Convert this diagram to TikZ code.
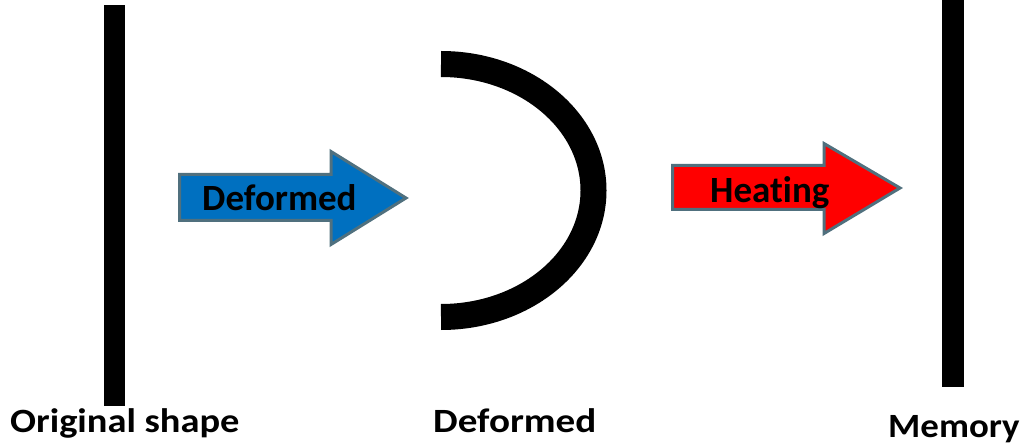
\documentclass[tikz,border=0pt]{standalone}
\usepackage{fontspec}
\setmainfont{Carlito}[Ligatures=NoCommon]
\definecolor{arrowedge}{HTML}{50707E}
\definecolor{arrowblue}{HTML}{0070C0}
\definecolor{arrowred}{HTML}{FF0000}
\tikzset{
  bar/.style={fill=black,draw=none},
  bigarrow/.style={draw=arrowedge,line width=3pt,line join=miter},
  arrowtext/.style={font=\fontsize{37}{40}\selectfont\bfseries,inner sep=0pt,anchor=base west},
  label/.style={font=\fontsize{34}{38}\selectfont\bfseries,inner sep=0pt,anchor=base west}
}
\begin{document}
\begin{tikzpicture}[x=1pt,y=1pt]
\useasboundingbox (0,0) rectangle (1025,445);
% bars
\fill[bar] (104,440) rectangle (125,39);
\fill[bar] (942,445) rectangle (964,58);
% arc
\draw[line width=26pt] (441,381) arc[start angle=90,end angle=-90,x radius=152.5,y radius=126.5];
% arrows
\draw[bigarrow,fill=arrowblue] (179.5,270.5) -- (331,270.5) -- (331,293.5) -- (406,247) -- (331,200.5) -- (331,224.5) -- (179.5,224.5) -- cycle;
\draw[bigarrow,fill=arrowred] (672.5,279.5) -- (824,279.5) -- (824,301.5) -- (900,257) -- (824,211.5) -- (824,235.5) -- (672.5,235.5) -- cycle;
\node[arrowtext] (t1) at (202,234) {Deformed};
\node[arrowtext] (t2) at (710,242) {Heating};
\node[label] (l1) at (10,13) {\scalebox{1.13}[1]{Original shape}};
\node[label] (l2) at (433,13) {\scalebox{1.15}[1]{Deformed}};
\node[label] (l3) at (888,8) {\scalebox{1.085}[1]{Memory}};
\end{tikzpicture}
\end{document}
